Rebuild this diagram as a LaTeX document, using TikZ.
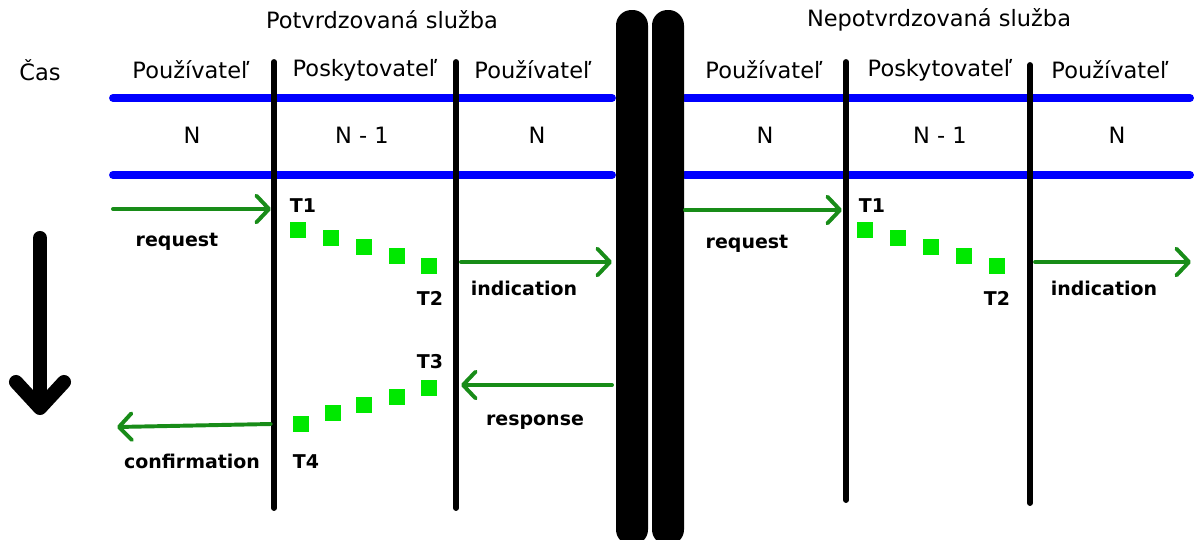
\documentclass[tikz,border=0pt]{standalone}
\usepackage{fontspec}
\setmainfont{DejaVu Sans}
\usetikzlibrary{arrows.meta,positioning}

\definecolor{tmavozelena}{RGB}{24,140,24}
\definecolor{svetlozelena}{RGB}{0,232,0}

\tikzset{
	vrstva/.style={blue, line width=5.6pt, line cap=round},
	hranica/.style={line width=4.2pt, line cap=round},
	stena/.style={fill=black, rounded corners=11pt},
	sprava/.style={draw=tmavozelena, line width=2.8pt, line cap=round,
		-{Straight Barb[length=9pt,width=19pt,line width=2.8pt,round]}},
	stvorec/.style={fill=svetlozelena, minimum size=11.5pt, inner sep=0pt},
	popis/.style={font=\bfseries\fontsize{13.5}{15}\selectfont},
	nadpis/.style={font=\fontsize{16}{18}\selectfont},
}

\begin{document}
\begin{tikzpicture}[x=0.025cm,y=-0.025cm]
		\useasboundingbox (0,0) rectangle (1194,539);
		% nadpisy
		\node[nadpis] (potvr) at (382,20) {Potvrdzovaná služba};
		\node[nadpis] (nepotvr) at (939,20) {Nepotvrdzovaná služba};
		\node[nadpis] (cas) at (40,70) {Čas};
		\node[nadpis] (pouz1) at (191,70) {Používateľ};
		\node[nadpis] (posk1) at (365,70) {Poskytovateľ};
		\node[nadpis] (pouz2) at (533,70) {Používateľ};
		\node[nadpis] (pouz3) at (764,70) {Používateľ};
		\node[nadpis] (posk2) at (940,70) {Poskytovateľ};
		\node[nadpis] (pouz4) at (1110,70) {Používateľ};
		\node[nadpis] (n1) at (192,135) {N};
		\node[nadpis] (n2) at (362,135) {N - 1};
		\node[nadpis] (n3) at (537,135) {N};
		\node[nadpis] (n4) at (765,135) {N};
		\node[nadpis] (n5) at (940,135) {N - 1};
		\node[nadpis] (n6) at (1117,135) {N};
		% vrstvy
		\draw[vrstva] (113,98) -- (612,98);
		\draw[vrstva] (113,175) -- (612,175);
		\draw[vrstva] (685,98) -- (1190,98);
		\draw[vrstva] (685,175) -- (1190,175);
		% hranice
		\coordinate (h1) at (274,62);
		\coordinate (h2) at (456,62);
		\coordinate (h3) at (846,62);
		\coordinate (h4) at (1030,65);
		\draw[hranica] (h1) -- (274,508);
		\draw[hranica] (h2) -- (456,508);
		\draw[hranica] (h3) -- (846,500);
		\draw[hranica] (h4) -- (1030,503);
		% steny
		\fill[stena] (616,10) rectangle (648,545);
		\fill[stena] (652,10) rectangle (684,545);
		% cas
		\draw[line width=10pt, line cap=round] (40,238) -- (40,405);
		\draw[line width=10pt, line cap=round, line join=round] (16,382) -- (40,408) -- (64,382);
		% potvrdzovana
		\coordinate (req1) at (113,209);
		\coordinate (req1k) at (271,209);
		\coordinate (ind1) at (461,262);
		\coordinate (ind1k) at (612,262);
		\coordinate (res1) at (612,385);
		\coordinate (res1k) at (461,385);
		\coordinate (con1) at (271,424);
		\coordinate (con1k) at (117,427);
		\draw[sprava] (req1) -- (req1k);
		\draw[sprava] (ind1) -- (ind1k);
		\draw[sprava] (res1) -- (res1k);
		\draw[sprava] (con1) -- (con1k);
		\node[popis] (lreq1) at (177,242) {request};
		\node[popis] (lind1) at (524,288) {indication};
		\node[popis] (lres1) at (535,422) {response};
		\node[popis] (lcon1) at (192,461) {confirmation};
		\node[popis] (t1) at (303,206) {T1};
		\node[popis] (t2) at (430,298) {T2};
		\node[popis] (t3) at (430,362) {T3};
		\node[popis] (t4) at (306,462) {T4};
		\foreach \x/\y [count=\i] in {298/230,331/238,364/247,397/256,429/266}
			\node[stvorec] (a\i) at (\x,\y) {};
		\foreach \x/\y [count=\i] in {429/388,397/397,364/405,333/413,301/424}
			\node[stvorec] (b\i) at (\x,\y) {};
		% nepotvrdzovana
		\coordinate (req2) at (685,210);
		\coordinate (req2k) at (842,210);
		\coordinate (ind2) at (1035,262);
		\coordinate (ind2k) at (1191,262);
		\draw[sprava] (req2) -- (req2k);
		\draw[sprava] (ind2) -- (ind2k);
		\node[popis] (lreq2) at (747,244) {request};
		\node[popis] (lind2) at (1104,288) {indication};
		\node[popis] (t5) at (872,206) {T1};
		\node[popis] (t6) at (997,298) {T2};
		\foreach \x/\y [count=\i] in {865/230,898/238,931/247,964/256,997/266}
			\node[stvorec] (c\i) at (\x,\y) {};
	\end{tikzpicture}
\end{document}
